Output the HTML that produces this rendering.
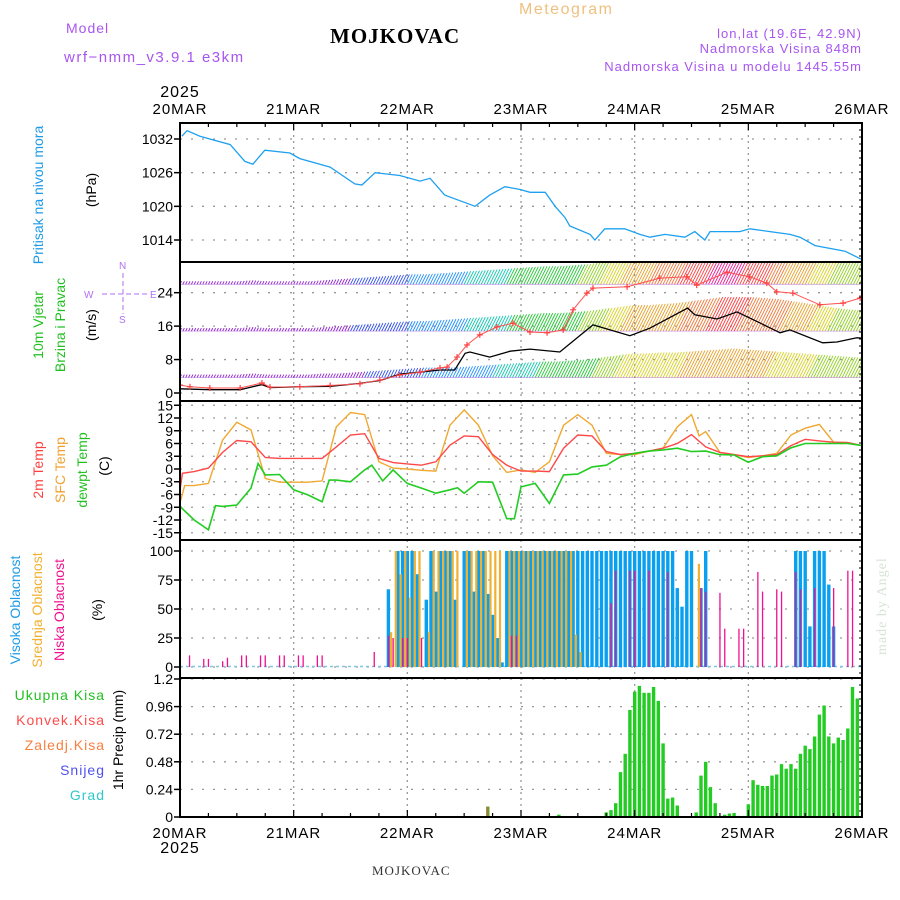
<!DOCTYPE html>
<html><head><meta charset="utf-8"><style>
html,body{margin:0;padding:0;background:#fff;}
svg{display:block;font-family:"Liberation Sans",sans-serif;}
</style></head><body>
<svg id="c" width="900" height="900" viewBox="0 0 900 900" xmlns="http://www.w3.org/2000/svg">
<g>
<text x="66" y="33" font-size="14" fill="#a855f0" letter-spacing="1">Model</text>
<text x="64" y="62" font-size="15" fill="#a855f0" letter-spacing="1.5">wrf−nmm_v3.9.1 e3km</text>
<text x="330" y="43" font-size="21" font-weight="bold" font-family="Liberation Serif,serif" fill="#000" letter-spacing="1">MOJKOVAC</text>
<text x="519" y="14" font-size="16" fill="#f0c080" letter-spacing="1.5">Meteogram</text>
<text x="862" y="38" font-size="13" fill="#a855f0" text-anchor="end" letter-spacing="1">lon,lat (19.6E, 42.9N)</text>
<text x="862" y="53" font-size="13" fill="#a855f0" text-anchor="end" letter-spacing="1">Nadmorska Visina 848m</text>
<text x="862" y="71" font-size="13" fill="#a855f0" text-anchor="end" letter-spacing="1">Nadmorska Visina u modelu 1445.55m</text>
<text x="180" y="97" font-size="16" fill="#000" text-anchor="middle" letter-spacing="1">2025</text>
<text x="372" y="875" font-size="13" font-family="Liberation Serif,serif" fill="#333" letter-spacing="1">MOJKOVAC</text>
<text transform="translate(886,655) rotate(-90)" font-size="14" font-family="Liberation Serif,serif" fill="#d6e4d6" letter-spacing="1">made by Angel</text>
<text x="180" y="853" font-size="16" fill="#000" text-anchor="middle" letter-spacing="1">2025</text>
</g>
<g>
<text transform="translate(43,195) rotate(-90)" font-size="14" fill="#1e9be8" text-anchor="middle">Pritisak na nivou mora</text>
<text transform="translate(96,190) rotate(-90)" font-size="14" fill="#000" text-anchor="middle">(hPa)</text>
<text transform="translate(43,325) rotate(-90)" font-size="14" fill="#22c022" text-anchor="middle">10m Vjetar</text>
<text transform="translate(65,325) rotate(-90)" font-size="14" fill="#22c022" text-anchor="middle">Brzina i Pravac</text>
<text transform="translate(96,325) rotate(-90)" font-size="14" fill="#000" text-anchor="middle">(m/s)</text>
<g fill="#b070f0" stroke="#b070f0" font-size="10">
<text x="119" y="269" stroke="none">N</text>
<text x="84" y="298" stroke="none">W</text>
<text x="150" y="298" stroke="none">E</text>
<text x="119" y="323" stroke="none">S</text>
<line x1="102" y1="294" x2="148" y2="294" stroke-dasharray="5,3" stroke-width="1"/>
<line x1="123" y1="273" x2="123" y2="314" stroke-dasharray="5,3" stroke-width="1"/>
</g>
<text transform="translate(43,470) rotate(-90)" font-size="14" fill="#ff4040" text-anchor="middle">2m Temp</text>
<text transform="translate(65,470) rotate(-90)" font-size="14" fill="#f0a030" text-anchor="middle">SFC Temp</text>
<text transform="translate(87,470) rotate(-90)" font-size="14" fill="#22c022" text-anchor="middle">dewpt Temp</text>
<text transform="translate(109,466) rotate(-90)" font-size="14" fill="#000" text-anchor="middle">(C)</text>
<text transform="translate(20,610) rotate(-90)" font-size="14" fill="#1e9be8" text-anchor="middle">Visoka Oblacnost</text>
<text transform="translate(42,610) rotate(-90)" font-size="14" fill="#f0b030" text-anchor="middle">Srednja Oblacnost</text>
<text transform="translate(64,610) rotate(-90)" font-size="14" fill="#f01090" text-anchor="middle">Niska Oblacnost</text>
<text transform="translate(102,610) rotate(-90)" font-size="14" fill="#000" text-anchor="middle">(%)</text>
<g font-size="14" text-anchor="end" letter-spacing="1">
<text x="105" y="700" fill="#22c022">Ukupna Kisa</text>
<text x="105" y="725" fill="#ff4a4a">Konvek.Kisa</text>
<text x="105" y="750" fill="#f58040">Zaledj.Kisa</text>
<text x="105" y="775" fill="#5050f0">Snijeg</text>
<text x="105" y="800" fill="#30c8c8">Grad</text>
</g>
<text transform="translate(123,740) rotate(-90)" font-size="14" fill="#000" text-anchor="middle">1hr Precip (mm)</text>
</g>
<g id="grid"></g>
<g id="marks"></g>
<g id="frame"></g>
<g id="ticks"></g>
</svg>
<script>
// ---- data ----
const dayLabels = ["20MAR","21MAR","22MAR","23MAR","24MAR","25MAR","26MAR"];
const pressTicks = [1014,1020,1026,1032];
const windTicks = [0,8,16,24];
const tempTicks = [-15,-12,-9,-6,-3,0,3,6,9,12,15];
const cloudTicks = [0,25,50,75,100];
const precipTicks = ["0","0.24","0.48","0.72","0.96","1.2"];

const pressHours = [0.4,1.5,4.2,10.6,13.7,15.4,17.9,23.2,25.3,31.7,36.9,38.4,41.2,46.4,50.7,52.8,55.9,59.1,62.3,65.4,68.6,71.8,73.9,77.1,79.2,81.3,82.3,86.6,87.6,89.7,93.9,97.1,99.2,102.4,106.6,108.7,110.8,111.9,118.2,120.3,124.6,128.8,130.9,134.1,137.2,140.4,144];
const pressVals = [1032.5,1033.5,1032.5,1031,1028,1027.5,1030,1029.5,1028.5,1027,1024,1023.8,1026,1025.5,1024.5,1025,1022,1021,1020,1022,1023.5,1023,1022.5,1022.5,1020,1018,1016.5,1015,1014,1016,1016,1015,1014.5,1015,1014.5,1015.5,1014,1015.5,1015.5,1016,1015.5,1015,1014.5,1013,1012.5,1012,1010.5];

const barbHours = [0,3,6,9,12,15,18,21,24,27,30,33,36,39,42,45,48,51,54,57,60,63,66,69,72,75,78,81,84,87,90,93,96,99,102,105,108,111,114,117,120,123,126,129,132,135,138,141,144];
const windLow = [1.5,1.5,1.5,1.5,1.5,2,1.5,1.5, 1.5,1.5,2,2,2.5,3,3.5,4, 4.5,5,5,5,5.5,6,6.5,7, 7.5,8,8,8.5,9,10,11,12, 12,12.5,12.5,13,13.5,14,14.5,14, 13.5,13,12.5,12,11.5,11,10.5,10, 10];
const windMid = [1.5,1.5,1.5,1.5,1.5,2,1.5,1.5, 1.5,1.5,2,2.5,3,3.5,4,4.5, 5,5,5.5,6,6.5,7,7.5,8, 8.5,9,9,9.5,10,11,12,13, 13,13.5,14,15,16,17,17,17, 16.5,16,15,14,13,12,11,10.5, 10];
const windTop = [1.5,1.5,1.5,1.5,1.5,2,1.5,1.5, 1.5,1.5,2,2.5,3,3.5,4,4.5, 5,5,5.5,6,6.5,7,7.5,8, 8.5,9,9,9.5,10,11,12,13, 14,15,16,17,18,19,20,19, 18,17,15,14,13,12,11,10.5, 10];
const windBase = [3.7,14.8,26];

const speedHours = [0,6.3,12.7,17.3,19,25.3,31.7,38,42.2,46.4,50.7,54.9,58,60.2,61.2,65.4,69.7,73.9,80.2,87.2,95,99.2,107.2,108.7,113.4,117.6,122.4,126.7,128.8,135.7,138.7,142.9,144];
const speedVals = [1.0,0.8,0.8,2.0,1.3,1.5,1.6,2.3,3,4.5,5,5.5,5.5,9.5,9.8,8.6,10,10.5,9.8,16.3,13.7,15.5,20.3,18.7,17.7,19.4,16.8,14.4,15.1,12,12.2,13.2,13.1];
const gustHours = [0,2.1,6.3,12.7,17.3,19,25.3,31.7,38,42.2,46.4,50.7,54.9,56.4,58.5,60.6,63.3,66.9,70.3,73.9,77.5,80.9,83,85.9,87.2,94.4,101.3,107,109.1,115.5,120.3,123.9,126,129.4,135.1,140,143.6];
const gustVals = [1.9,1.5,1.2,1.2,2.4,1.4,1.5,1.8,2.2,3.1,4.3,5,6,6.2,8.6,11.5,13.9,15.8,16.7,14.6,14.4,15.1,19.9,23.9,25.1,25.4,27.5,27.8,25.8,28.9,27.8,26.3,24.2,23.9,21.1,21.5,22.7];

const t2Hours = [0,0.5,3,6,9,12,15,18,21,24,27,30,33,36,39,42,45,48,51,54,57,60,63,66,69,72,75,78,81,84,87,90,93,96,99,102,105,108,111,114,117,120,123,126,129,132,135,138,141,144];
const t2Vals = [-5,-1,-0.6,0.2,3.9,6.7,6.4,2.7,2.5,2.5,2.5,2.5,5.2,8.0,8.3,2.5,1.5,1.2,0.9,1.7,5.6,7.8,7.6,3.4,0.9,-0.5,-0.5,-0.6,4.9,8.0,7.8,4.1,3.4,3.7,4.2,4.9,6.0,8.1,5.2,3.9,3.4,2.9,3.1,3.4,5.5,7.0,6.6,6.3,6.2,5.5];
const sfcHours = [0,1,3,6,9,12,15,18,21,24,27,30,33,36,39,42,45,48,51,54,57,60,63,66,69,72,75,78,81,84,87,90,93,96,99,102,105,108,109.6,111,114,117,120,123,126,129,132,135,138,141,144];
const sfcVals = [-8,-3.9,-3.9,-3.4,6.8,11,9.2,-2.2,-3.1,-3.1,-3.1,-2.8,9.9,13.3,12.8,1.7,0.2,0,-0.3,-0.5,10.3,13.9,10.3,3.1,-0.8,-0.2,-0.8,1.7,10.3,12.8,10.3,3.7,3.4,3.4,4.2,4.9,9.9,12.8,7.8,8.8,3.9,3.4,2.7,3.1,3.7,8.0,9.6,10.5,6.3,6.2,5.5];
const dewHours = [0,3,6,7.5,9,12,15,16.5,18,21,24,27,30,31.5,33,36,39,40.5,42.8,45,48,51,54,57,58.6,60,63,66,69,70.6,72,75,78,81,84,87,90,93,96,99,102,105,108,111,114,117,120,123,126,129,132,135,138,141,144];
const dewVals = [-8.8,-12,-14.3,-8.6,-8.8,-8.5,-4.5,1.3,-1.4,-1.3,-4.9,-6.1,-7.7,-2.6,-2.6,-3.0,-0.2,0.9,-2.8,-0.2,-3.4,-4.5,-5.7,-4.9,-4.4,-5.7,-3.0,-3.1,-11.7,-11.7,-4.2,-3.4,-8.1,-1.4,-1.2,0.5,0.9,2.9,3.7,4.2,4.5,4.9,4.1,4.2,3.4,3.3,1.6,2.9,3.1,5.0,6.0,6.0,6.0,6.0,5.5];

const highHours = [44,46,47,48,49,50,52,53,54,55,56,57,58,60,61,62,63,64,65,66,67,68,69,70,71,72,73,74,75,76,77,78,79,80,81,82,83,84,85,86,87,88,89,90,91,92,93,94,95,96,97,98,99,100,101,102,103,104,105,106,107,108,110,111,130,131,132,133,134,135,136,137,138];
const highVals = [67,100,100,100,100,80,58,100,65,100,100,100,58,100,100,65,100,100,63,45,25,4,100,100,100,100,100,100,100,100,100,100,100,100,100,100,100,100,100,100,100,100,100,100,100,100,100,100,100,100,100,100,100,100,100,100,100,100,68,52,100,100,68,100,100,100,100,35,100,100,100,71,35];
const midHours = [44,45,46,47,48,49,50,52,53,54,55,56,57,58,60,61,62,63,64,65,66,67,69,70,71,72,73,74,75,76,77,78,79,80,81,82,83,84,109];
const midVals = [30,100,80,100,60,100,100,30,100,100,100,100,100,100,100,100,100,100,100,100,100,100,100,100,100,100,100,100,100,100,100,100,100,100,100,100,28,13,89];
const lowHours = [2,5,6,9,10,13,14,17,18,21,22,25,26,29,30,41,44,45,47,48,51,70,71,91,92,95,96,99,103,110,111,114,115,118,119,122,123,126,127,130,131,134,138,141,142];
const lowVals = [10,7,7,5,8,10,10,10,10,10,10,10,10,10,10,13,27,25,25,25,25,27,27,55,83,83,83,83,82,68,65,64,33,33,33,82,65,67,65,82,67,68,68,83,83];

const rainHours = [47,65,80,90,91,92,93,94,95,96,97,98,99,100,101,102,103,104,105,106,107,108,109,110,111,112,113,114,115,116,117,118,119,120,121,122,123,124,125,126,127,128,129,130,131,132,133,134,135,136,137,138,139,140,141,142,143];
const rainVals = [0.01,0.09,0.02,0.04,0.06,0.12,0.39,0.55,0.93,1.09,1.14,1.08,1.08,1.13,1.01,0.64,0.16,0.17,0.10,0,0,0,0.04,0.36,0.48,0.26,0.12,0.01,0.02,0.03,0.035,0.01,0.01,0.11,0.32,0.28,0.27,0.27,0.36,0.37,0.46,0.42,0.46,0.42,0.55,0.62,0.59,0.70,0.89,0.97,0.70,0.64,0.69,0.67,0.77,1.13,1.03];
const convHours = [65];
const convVals = [0.09];

// ---- scales ----
const X0=180, X1=862;
const X = h => X0 + h*(X1-X0)/144;
const YP = p => 139 + (1032-p)*5.611;
const YW = v => 393 - v*4.18;
const YT = t => 469 - t*4.25;
const YC = c => 667 - c*1.16;
const YR = r => 817 - r*115;
const panels = [[123,262],[262,401],[401,540],[540,678],[678,817]];
const NS="http://www.w3.org/2000/svg";
function mk(parent, tag, attrs){const e=document.createElementNS(NS,tag);for(const k in attrs)e.setAttribute(k,attrs[k]);parent.appendChild(e);return e;}
const grid=document.getElementById('grid'), marks=document.getElementById('marks'), frame=document.getElementById('frame'), ticks=document.getElementById('ticks');

const defs=mk(document.getElementById('c'),'defs',{});
panels.forEach((p,i)=>{const cp=mk(defs,'clipPath',{id:'cp'+i});mk(cp,'rect',{x:X0,y:p[0],width:X1-X0,height:p[1]-p[0]});});

dayLabels.forEach((d,i)=>{
  const x=X(i*24);
  panels.forEach(p=>{
    if(i>0&&i<6){const l=mk(grid,'line',{x1:x,y1:p[0],x2:x,y2:p[1],stroke:'#999','stroke-dasharray':'2,4','stroke-width':1.3});
    
    }
  });
  const t1=mk(ticks,'text',{x:x,y:114,'font-size':15,'text-anchor':'middle','letter-spacing':1});t1.textContent=d;
  
  
  const t2=mk(ticks,'text',{x:x,y:838,'font-size':15,'text-anchor':'middle','letter-spacing':1});t2.textContent=d;
  
  
});
function hgrid(y,label,panelName){
  const l=mk(grid,'line',{x1:X0,y1:y,x2:X1,y2:y,stroke:'#999','stroke-dasharray':'2,9','stroke-width':1.3});
  
  
  mk(frame,'line',{x1:X0-6,y1:y,x2:X0,y2:y,stroke:'#000','stroke-width':1.5});
  const t=mk(ticks,'text',{x:X0-7,y:y+5,'font-size':14,'text-anchor':'end'});t.textContent=label;
  
  
}
pressTicks.forEach(v=>hgrid(YP(v),v,'pressure'));
windTicks.forEach(v=>hgrid(YW(v),v,'wind'));
tempTicks.forEach(v=>hgrid(YT(v),v,'temp'));
cloudTicks.forEach(v=>hgrid(YC(v),v,'cloud'));
precipTicks.forEach(v=>hgrid(YR(parseFloat(v)),v,'precip'));

function line(hs,vs,ys,color,name,clip,w){
  const d=hs.map((h,i)=>(i?'L':'M')+X(h).toFixed(1)+','+ys(vs[i]).toFixed(1)).join('');
  const p=mk(marks,'path',{d:d,fill:'none',stroke:color,'stroke-width':w||1.3,'clip-path':'url(#cp'+clip+')'});
  
  
}
line(pressHours,pressVals,YP,'#1ea0f0','pressure-line',0);

function spdColor(s){
  if(s<3)return '#9020d0'; if(s<5)return '#3050f0'; if(s<6.5)return '#1e90ff'; if(s<8)return '#10c8b0';
  if(s<10)return '#20c830'; if(s<11.5)return '#90d020'; if(s<13)return '#d8d020'; if(s<15)return '#e8a028';
  if(s<17)return '#f07838'; if(s<19)return '#ff4040'; return '#f01890';
}
[windLow,windMid,windTop].forEach((arr,ri)=>{
  const g=mk(marks,'g',{'clip-path':'url(#cp1)'});
  
  
  const yb=YW(windBase[ri]);
  for(let i=0;i<barbHours.length-1;i++){
    const x0=X(barbHours[i]), x1=X(barbHours[i+1]);
    const n=5;
    for(let k=0;k<n;k++){
      const f=k/n, s=arr[i]+(arr[i+1]-arr[i])*f, x=x0+(x1-x0)*f, L=s*2;
      const b=mk(g,'line',{x1:x,y1:yb,x2:x+L*0.5,y2:yb-L,stroke:spdColor(s),'stroke-width':0.9});
      
      
    }
  }
  const lastX=X(barbHours[barbHours.length-1]);
  const base=mk(g,'line',{x1:X0,y1:yb,x2:lastX,y2:yb,stroke:'#9020d0','stroke-width':0.8,opacity:0.4});
  
  
});
line(speedHours,speedVals,YW,'#000','wind-speed-line',1,1.3);
line(gustHours,gustVals,YW,'#ff5050','wind-gust-line',1,1);
gustHours.forEach((h,i)=>{
  const x=X(h), y=YW(gustVals[i]);
  const c=mk(marks,'path',{d:`M${x-3},${y}L${x+3},${y}M${x},${y-3}L${x},${y+3}`,stroke:'#ff4040','stroke-width':1.2,'clip-path':'url(#cp1)'});
  
  
});

line(sfcHours,sfcVals,YT,'#f0a830','sfc-temp-line',2,1.4);
line(t2Hours,t2Vals,YT,'#ff4848','temp-2m-line',2,1.4);
line(dewHours,dewVals,YT,'#22cc22','dewpoint-line',2,1.6);

const bl=mk(marks,'line',{x1:X0,y1:YC(0)-0.5,x2:X1,y2:YC(0)-0.5,stroke:'#80c8e0','stroke-width':1.5,'stroke-dasharray':'3,3'});


function bars(hs,vs,ys,color,w,off,name,clip){
  hs.forEach((h,i)=>{
    if(vs[i]<=0)return;
    const y=ys(vs[i]), y0=ys(0);
    const r=mk(marks,'rect',{x:(X(h)+off).toFixed(1),y:y.toFixed(1),width:w,height:(y0-y).toFixed(1),fill:color,'clip-path':'url(#cp'+clip+')'});
    
    
  });
}
bars(highHours,highVals,YC,'#0aa0f0',3.4,-1.7,'high-cloud-bar',3);
bars(midHours,midVals,YC,'#f0b030',2.2,1.6,'mid-cloud-bar',3);
bars(lowHours,lowVals,YC,'#f01090',1.3,-0.6,'low-cloud-bar',3);

bars(rainHours,rainVals,YR,'#22cc22',3.4,-1.7,'total-precip-bar',4);
bars(convHours,convVals,YR,'#ff4a4a',1.6,-0.8,'convective-precip-bar',4);

panels.forEach((p,i)=>{
  const r=mk(frame,'rect',{x:X0,y:p[0],width:X1-X0,height:p[1]-p[0],fill:'none',stroke:'#000','stroke-width':2});
  
  
  for(let y=p[0];y<p[1];y+=7){mk(frame,'line',{x1:X1-3,y1:y,x2:X1,y2:y,stroke:'#000','stroke-width':1});}
});
for(let h=0;h<=144;h+=6){
  const x=X(h), L=(h%24===0)?7:4;
  mk(frame,'line',{x1:x,y1:123,x2:x,y2:123+L,stroke:'#000','stroke-width':1.2});
  mk(frame,'line',{x1:x,y1:817,x2:x,y2:817-L,stroke:'#000','stroke-width':1.2});
}
</script>
</body></html>
